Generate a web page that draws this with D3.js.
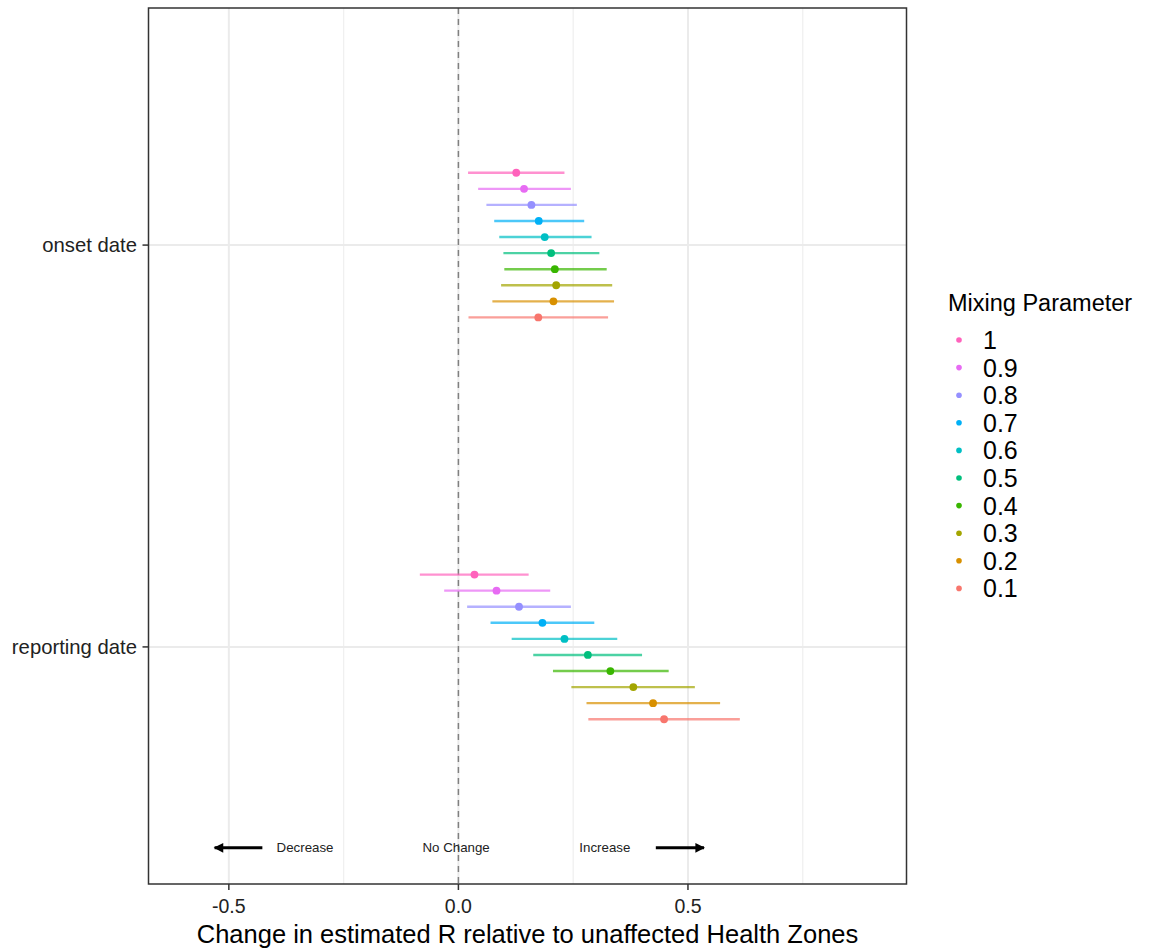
<!DOCTYPE html>
<html>
<head>
<meta charset="utf-8">
<script src="https://cdn.jsdelivr.net/npm/d3@7"></script>
<style>
  body { margin: 0; background: #fff; }
  svg text { font-family: "Liberation Sans", Arial, Helvetica, sans-serif; fill: #000; }
</style>
</head>
<body>
<div id="chart"></div>
<script>
// mixing parameter levels, top row first
const mixing = ['1', '0.9', '0.8', '0.7', '0.6', '0.5', '0.4', '0.3', '0.2', '0.1'];
const colours = ['#FF62BC', '#E76BF3', '#9590FF', '#00B0F6', '#00BFC4',
  '#00BF7D', '#39B600', '#A3A500', '#D89000', '#F8766D'];
const dateTypes = ['reporting date', 'onset date'];

const onsetLow = [0.021, 0.043, 0.061, 0.078, 0.089, 0.098, 0.100, 0.093, 0.074, 0.022];
const onsetEst = [0.126, 0.143, 0.159, 0.175, 0.188, 0.202, 0.210, 0.213, 0.207, 0.174];
const onsetHigh = [0.231, 0.245, 0.258, 0.274, 0.290, 0.307, 0.323, 0.335, 0.339, 0.326];

const reportLow = [-0.084, -0.031, 0.019, 0.070, 0.116, 0.163, 0.206, 0.246, 0.279, 0.283];
const reportEst = [0.035, 0.083, 0.132, 0.183, 0.231, 0.282, 0.331, 0.381, 0.424, 0.448];
const reportHigh = [0.153, 0.200, 0.245, 0.296, 0.346, 0.400, 0.458, 0.515, 0.570, 0.613];

const xTicks = [-0.5, 0, 0.5];
const xTickLabels = ['-0.5', '0.0', '0.5'];
const xMinor = [-0.25, 0.25, 0.75];
const xDomain = [-0.675, 0.976];

// annotation arrows and labels (x in data units)
const arrows = [{ from: -0.427, to: -0.531 }, { from: 0.43, to: 0.535 }];
const notes = [{ x: -0.334, text: 'Decrease' }, { x: -0.005, text: 'No Change' }, { x: 0.319, text: 'Increase' }];

const rows = [];
mixing.forEach((m, i) => {
  rows.push({ type: 'onset date', mix: m, low: onsetLow[i], est: onsetEst[i], high: onsetHigh[i], colour: colours[i] });
  rows.push({ type: 'reporting date', mix: m, low: reportLow[i], est: reportEst[i], high: reportHigh[i], colour: colours[i] });
});

const width = 1161;
const height = 952;
const panel = { left: 148.5, right: 906.5, top: 8, bottom: 884 };

const svg = d3.select('#chart').append('svg')
  .attr('width', width)
  .attr('height', height);

const x = d3.scaleLinear().domain(xDomain).range([panel.left, panel.right]);
const y = d3.scalePoint().domain(dateTypes).range([panel.bottom, panel.top]).padding(0.59);
const step = y.step();
const dodge = d3.scaleBand().domain(mixing).range([-0.2 * step, 0.2 * step]);
const rowY = d => y(d.type) + dodge(d.mix) + dodge.bandwidth() / 2;

// panel + grid
const grid = svg.append('g');
grid.append('rect')
  .attr('x', panel.left).attr('y', panel.top)
  .attr('width', panel.right - panel.left).attr('height', panel.bottom - panel.top)
  .attr('fill', '#fff');
grid.selectAll('line.minor').data(xMinor).enter().append('line')
  .attr('class', 'minor')
  .attr('x1', d => x(d)).attr('x2', d => x(d))
  .attr('y1', panel.top).attr('y2', panel.bottom)
  .attr('stroke', '#f0f0f0').attr('stroke-width', 1.3);
grid.selectAll('line.vmajor').data(xTicks).enter().append('line')
  .attr('class', 'vmajor')
  .attr('x1', d => x(d)).attr('x2', d => x(d))
  .attr('y1', panel.top).attr('y2', panel.bottom)
  .attr('stroke', '#ebebeb').attr('stroke-width', 2);
grid.selectAll('line.hmajor').data(dateTypes).enter().append('line')
  .attr('class', 'hmajor')
  .attr('x1', panel.left).attr('x2', panel.right)
  .attr('y1', d => y(d)).attr('y2', d => y(d))
  .attr('stroke', '#ebebeb').attr('stroke-width', 2);

// no-change reference line
svg.append('line')
  .attr('x1', x(0)).attr('x2', x(0))
  .attr('y1', panel.top).attr('y2', panel.bottom)
  .attr('stroke', '#808080').attr('stroke-width', 1.5)
  .attr('stroke-dasharray', '6,5');

// intervals + estimates
const marks = svg.append('g');
marks.selectAll('line.ci').data(rows).enter().append('line')
  .attr('class', 'ci')
  .attr('x1', d => x(d.low)).attr('x2', d => x(d.high))
  .attr('y1', rowY).attr('y2', rowY)
  .attr('stroke', d => d.colour)
  .attr('stroke-opacity', 0.7)
  .attr('stroke-width', 2.4);
marks.selectAll('circle').data(rows).enter().append('circle')
  .attr('cx', d => x(d.est)).attr('cy', rowY)
  .attr('r', 3.9)
  .attr('fill', d => d.colour);

// annotations
const annY = y('reporting date') + 0.5 * step;
svg.append('defs').append('marker')
  .attr('id', 'head')
  .attr('viewBox', '0 0 10 10')
  .attr('refX', 9).attr('refY', 5)
  .attr('markerWidth', 4).attr('markerHeight', 3.2)
  .attr('orient', 'auto')
  .append('path')
  .attr('d', 'M0,0 L10,5 L0,10 z')
  .attr('fill', '#000');
svg.selectAll('line.arrow').data(arrows).enter().append('line')
  .attr('class', 'arrow')
  .attr('x1', d => x(d.from)).attr('x2', d => x(d.to))
  .attr('y1', annY).attr('y2', annY)
  .attr('stroke', '#000').attr('stroke-width', 3)
  .attr('marker-end', 'url(#head)');
svg.selectAll('text.note').data(notes).enter().append('text')
  .attr('class', 'note')
  .attr('x', d => x(d.x)).attr('y', annY)
  .attr('dy', '0.35em')
  .attr('text-anchor', 'middle')
  .style('font-size', '13.3px')
  .style('fill', '#222')
  .text(d => d.text);

// border
svg.append('rect')
  .attr('x', panel.left).attr('y', panel.top)
  .attr('width', panel.right - panel.left).attr('height', panel.bottom - panel.top)
  .attr('fill', 'none').attr('stroke', '#333').attr('stroke-width', 1.5);

// x axis
const xAxis = svg.append('g');
xAxis.selectAll('line').data(xTicks).enter().append('line')
  .attr('x1', d => x(d)).attr('x2', d => x(d))
  .attr('y1', panel.bottom).attr('y2', panel.bottom + 6)
  .attr('stroke', '#333').attr('stroke-width', 1.5);
xAxis.selectAll('text').data(xTicks).enter().append('text')
  .attr('x', d => x(d)).attr('y', 913)
  .attr('text-anchor', 'middle')
  .style('font-size', '19.5px')
  .style('fill', '#222')
  .text((d, i) => xTickLabels[i]);
svg.append('text')
  .attr('x', (panel.left + panel.right) / 2).attr('y', 943)
  .attr('text-anchor', 'middle')
  .style('font-size', '25.5px')
  .text('Change in estimated R relative to unaffected Health Zones');

// y axis
const yAxis = svg.append('g');
yAxis.selectAll('line').data(dateTypes).enter().append('line')
  .attr('x1', panel.left - 6).attr('x2', panel.left)
  .attr('y1', d => y(d)).attr('y2', d => y(d))
  .attr('stroke', '#333').attr('stroke-width', 1.5);
yAxis.selectAll('text').data(dateTypes).enter().append('text')
  .attr('x', 137).attr('y', d => y(d))
  .attr('dy', '0.35em')
  .attr('text-anchor', 'end')
  .style('font-size', '20.3px')
  .style('fill', '#222')
  .text(d => d);

// legend
const legend = svg.append('g').attr('transform', 'translate(948, 0)');
legend.append('text')
  .attr('x', 0).attr('y', 311)
  .style('font-size', '23.5px')
  .text('Mixing Parameter');
const items = legend.selectAll('g.item').data(mixing).enter().append('g')
  .attr('class', 'item')
  .attr('transform', (d, i) => `translate(0, ${340 + i * 27.6})`);
items.append('circle')
  .attr('cx', 11).attr('cy', 0).attr('r', 2.8)
  .attr('fill', (d, i) => colours[i]);
items.append('text')
  .attr('x', 35).attr('y', 0)
  .attr('dy', '0.36em')
  .style('font-size', '25px')
  .text(d => d);
</script>
</body>
</html>
